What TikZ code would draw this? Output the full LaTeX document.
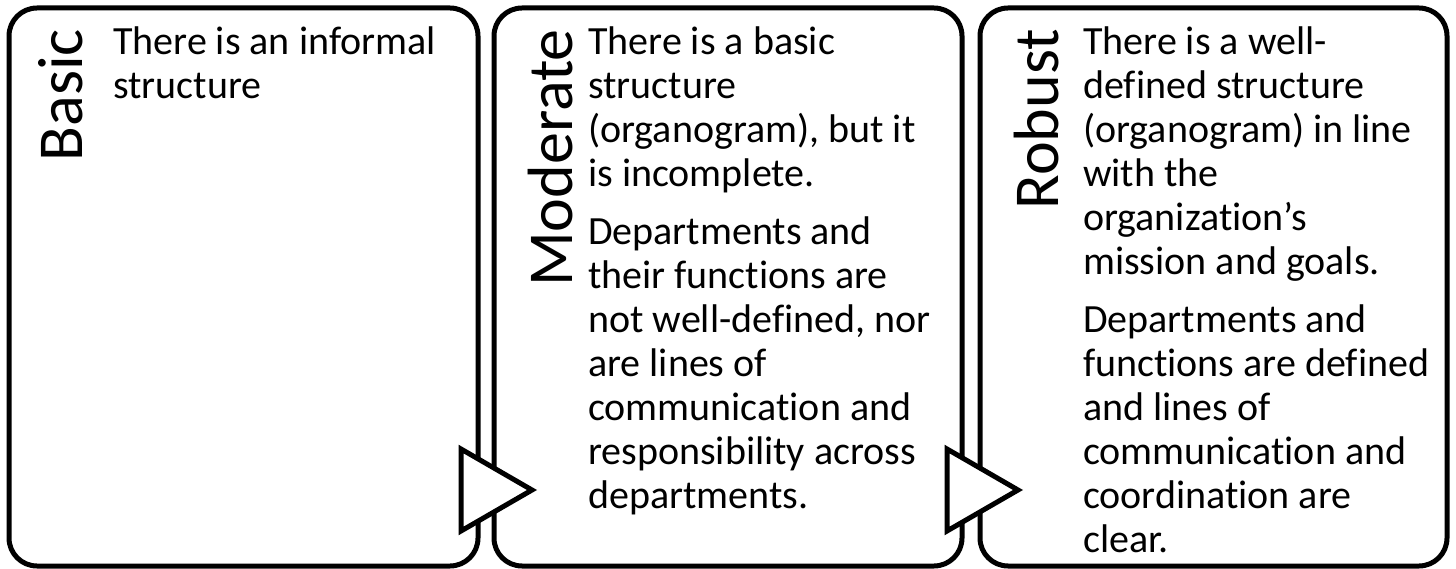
\documentclass[tikz,border=0pt]{standalone}
\usepackage{fontspec}
\setmainfont{Carlito}[Ligatures=NoCommon]
\begin{document}
\begin{tikzpicture}[x=1pt,y=-1pt,
  panel/.style={draw=black,line width=5pt,rounded corners=28pt,fill=white},
  arrowtri/.style={draw=black,line width=5pt,fill=white,line join=miter},
  lbl/.style={rotate=90,anchor=base east,inner sep=0pt,font=\fontsize{64}{70}\selectfont},
  body/.style={anchor=north west,inner sep=0pt,align=left,font=\fontsize{40}{44}\selectfont}]
\useasboundingbox (0,0) rectangle (1456,569);
\fill[white] (0,0) rectangle (1456,569);
% panels
\draw[panel] (9,8) rectangle (478,566);
\draw[panel] (494,8) rectangle (962,566);
\draw[panel] (980,8) rectangle (1447,566);
% arrows
\draw[arrowtri] (461,449) -- (532,490) -- (461,531) -- cycle;
\draw[arrowtri] (947,449) -- (1018,490) -- (947,531) -- cycle;
% labels
\node[lbl] (l1) at (82,29) {Basic};
\node[lbl] (l2) at (572,29) {Moderate};
\node[lbl] (l3) at (1058,29) {Robust};
% texts
\node[body] (t1) at (113,27) {There is an informal\\structure};
\node[body] (t2) at (588,27) {There is a basic\\structure\\(organogram), but it\\is incomplete.\\[14pt]Departments and\\their functions are\\not well-defined, nor\\are lines of\\communication and\\responsibility across\\departments.};
\node[body] (t3) at (1083,27) {There is a well-\\defined structure\\(organogram) in line\\with the\\organization’s\\mission and goals.\\[14pt]Departments and\\functions are defined\\and lines of\\communication and\\coordination are\\clear.};
\end{tikzpicture}
\end{document}
